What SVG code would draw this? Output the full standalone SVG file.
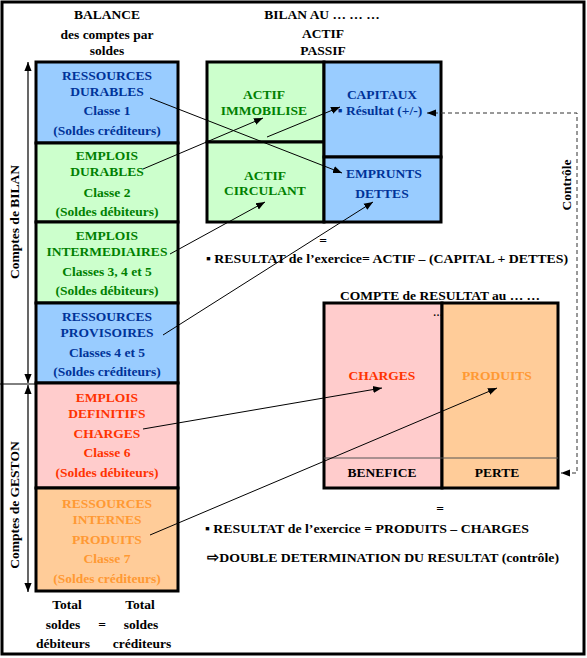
<svg xmlns="http://www.w3.org/2000/svg" width="587" height="658" viewBox="0 0 587 658" font-family="Liberation Serif, serif">
<style>
text{font-family:'Liberation Serif',serif;font-weight:700;font-size:13.5px;text-anchor:middle}
.blue{fill:#003399}.green{fill:#008000}.red{fill:#FF3300}.orange{fill:#FF9933}
.box{stroke:#000;stroke-width:3}
.bl{fill:#99CCFF}.gr{fill:#CCFFCC}.pk{fill:#FFCCCC}.or{fill:#FFCC99}
.con{stroke:#000;stroke-width:1;fill:none}
.dash{stroke:#333;stroke-width:1;fill:none;stroke-dasharray:4 3}
</style>
<defs>
<marker id="ah" viewBox="0 0 10 10" refX="10" refY="5" markerWidth="9" markerHeight="9" markerUnits="userSpaceOnUse" orient="auto-start-reverse">
<path d="M0,1 L10,5 L0,9 z" fill="#000"/>
</marker>
</defs>
<rect x="0" y="0" width="587" height="658" fill="#fff"/>
<rect x="2" y="2" width="582" height="652" fill="none" stroke="#000" stroke-width="3"/>

<g id="headers">
<text x="107" y="19">BALANCE</text>
<text x="107" y="39">des comptes par</text>
<text x="107" y="55">soldes</text>
<text x="322" y="19">BILAN AU … … …</text>
<text x="323" y="38">ACTIF</text>
<text x="323" y="55">PASSIF</text>
<text x="440" y="300">COMPTE de RESULTAT au … …</text>
</g>

<g id="side-labels">
<text transform="translate(19,222) rotate(-90)">Comptes de BILAN</text>
<text transform="translate(19,505) rotate(-90)">Comptes de GESTON</text>
<text transform="translate(571,185) rotate(-90)">Contrôle</text>
<line x1="0" y1="384" x2="36" y2="384" stroke="#000" stroke-width="1"/>
<line x1="28" y1="62" x2="28" y2="383" stroke="#000" stroke-width="1.2" marker-start="url(#ah)" marker-end="url(#ah)"/>
<line x1="28" y1="385" x2="28" y2="592" stroke="#000" stroke-width="1.2" marker-start="url(#ah)" marker-end="url(#ah)"/>
</g>

<g id="ressources-durables">
<rect class="box bl" x="36" y="62" width="142" height="81"/>
<text class="blue" x="107" y="80">RESSOURCES</text>
<text class="blue" x="107" y="96">DURABLES</text>
<text class="blue" x="107" y="115">Classe 1</text>
<text class="blue" x="107" y="135">(Soldes créditeurs)</text>
</g>
<g id="emplois-durables">
<rect class="box gr" x="36" y="143" width="142" height="79"/>
<text class="green" x="107" y="160">EMPLOIS</text>
<text class="green" x="107" y="176">DURABLES</text>
<text class="green" x="107" y="197">Classe 2</text>
<text class="green" x="107" y="216">(Soldes débiteurs)</text>
</g>
<g id="emplois-intermediaires">
<rect class="box gr" x="36" y="222" width="142" height="81"/>
<text class="green" x="107" y="240">EMPLOIS</text>
<text class="green" x="107" y="256">INTERMEDIAIRES</text>
<text class="green" x="107" y="276">Classes 3, 4 et 5</text>
<text class="green" x="107" y="295">(Soldes débiteurs)</text>
</g>
<g id="ressources-provisoires">
<rect class="box bl" x="36" y="303" width="142" height="80"/>
<text class="blue" x="107" y="321">RESSOURCES</text>
<text class="blue" x="107" y="337">PROVISOIRES</text>
<text class="blue" x="107" y="357">Classes 4 et 5</text>
<text class="blue" x="107" y="376">(Soldes créditeurs)</text>
</g>
<g id="emplois-definitifs">
<rect class="box pk" x="36" y="383" width="142" height="105"/>
<text class="red" x="107" y="402">EMPLOIS</text>
<text class="red" x="107" y="418">DEFINITIFS</text>
<text class="red" x="107" y="438">CHARGES</text>
<text class="red" x="107" y="457">Classe 6</text>
<text class="red" x="107" y="477">(Soldes débiteurs)</text>
</g>
<g id="ressources-internes">
<rect class="box or" x="36" y="488" width="142" height="103"/>
<text class="orange" x="107" y="508">RESSOURCES</text>
<text class="orange" x="107" y="524">INTERNES</text>
<text class="orange" x="107" y="544">PRODUITS</text>
<text class="orange" x="107" y="563">Classe 7</text>
<text class="orange" x="107" y="583">(Soldes créditeurs)</text>
</g>

<g id="totals">
<text x="67" y="609">Total</text>
<text x="140" y="609">Total</text>
<text x="63" y="629">soldes</text>
<text x="102" y="629">=</text>
<text x="141" y="629">soldes</text>
<text x="63" y="648">débiteurs</text>
<text x="142" y="648">créditeurs</text>
</g>

<g id="actif-immobilise">
<rect class="box gr" x="207" y="62" width="117" height="80"/>
<text class="green" x="264" y="99">ACTIF</text>
<text class="green" x="264" y="115">IMMOBILISE</text>
</g>
<g id="actif-circulant">
<rect class="box gr" x="207" y="142" width="117" height="80"/>
<text class="green" x="265" y="180">ACTIF</text>
<text class="green" x="265" y="195">CIRCULANT</text>
</g>
<g id="capitaux">
<rect class="box bl" x="324" y="62" width="117" height="95"/>
<text class="blue" x="382" y="99">CAPITAUX</text>
<text class="blue" x="380" y="115">▪ Résultat (+/-)</text>
</g>
<g id="emprunts-dettes">
<rect class="box bl" x="324" y="157" width="117" height="65"/>
<text class="blue" x="384" y="178">EMPRUNTS</text>
<text class="blue" x="382" y="198">DETTES</text>
</g>

<g id="bilan-formula">
<text x="323" y="245">=</text>
<text x="387" y="263" textLength="362" lengthAdjust="spacingAndGlyphs">▪ RESULTAT de l’exercice= ACTIF – (CAPITAL + DETTES)</text>
</g>

<g id="compte-resultat">
<rect class="box pk" x="324" y="303" width="118" height="185"/>
<rect class="box or" x="442" y="303" width="116" height="185"/>
<line x1="324" y1="458" x2="558" y2="458" stroke="#555" stroke-width="1"/>
<text x="438" y="316" style="font-size:10px">…</text>
<text class="red" x="382" y="380">CHARGES</text>
<text class="orange" x="497" y="380">PRODUITS</text>
<text x="382" y="477">BENEFICE</text>
<text x="497" y="477">PERTE</text>
</g>

<g id="resultat-formula">
<text x="440" y="513">=</text>
<text x="367" y="533" textLength="324" lengthAdjust="spacingAndGlyphs">▪ RESULTAT de l’exercice = PRODUITS – CHARGES</text>
<text x="383" y="562" textLength="352" lengthAdjust="spacingAndGlyphs">⇨DOUBLE DETERMINATION DU RESULTAT (contrôle)</text>
</g>

<g id="connectors">
<line class="con" x1="150" y1="98" x2="342" y2="173" marker-end="url(#ah)"/>
<line class="con" x1="143" y1="169" x2="263" y2="118" marker-end="url(#ah)"/>
<line class="con" x1="267" y1="137" x2="340" y2="107" marker-end="url(#ah)"/>
<line class="con" x1="170" y1="254" x2="265" y2="202" marker-end="url(#ah)"/>
<line class="con" x1="163" y1="335" x2="373" y2="202" marker-end="url(#ah)"/>
<line class="con" x1="143" y1="429" x2="382" y2="388" marker-end="url(#ah)"/>
<line class="con" x1="150" y1="535" x2="497" y2="388" marker-end="url(#ah)"/>
<polyline class="dash" points="427,113 577,113 577,473 561,473" marker-start="url(#ah)" marker-end="url(#ah)"/>
</g>
</svg>
